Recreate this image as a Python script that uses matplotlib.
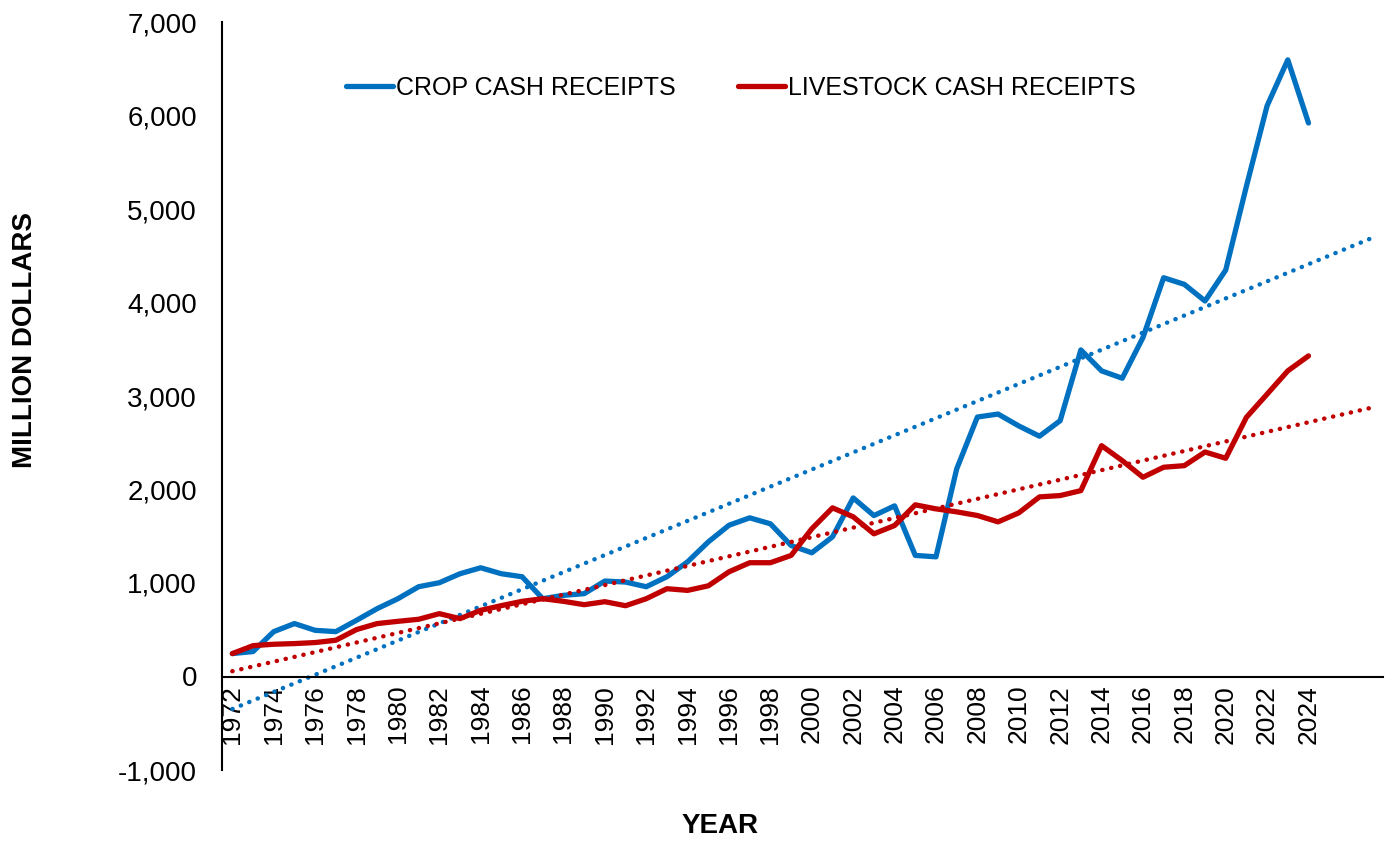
import numpy as np
import matplotlib.pyplot as plt
from matplotlib.ticker import FuncFormatter

# Werte (Millionen Dollar)
years = np.arange(1972, 2025)
crop = [245, 267, 480, 566, 494, 480, 601, 726, 832, 960,
        1003, 1099, 1163, 1099, 1067, 832, 868, 886, 1021, 1010,
        960, 1067, 1227, 1440, 1618, 1697, 1633, 1401, 1323, 1494,
        1910, 1721, 1825, 1295, 1280, 2220, 2775, 2807, 2680, 2570,
        2736, 3493, 3269, 3190, 3625, 4265, 4194, 4016, 4347, 5243,
        6104, 6595, 5920]
livestock = [245, 330, 345, 352, 363, 388, 502, 566, 590, 612,
             672, 619, 708, 758, 804, 832, 804, 768, 800, 757,
             832, 939, 921, 970, 1120, 1217, 1217, 1295, 1580, 1804,
             1708, 1526, 1615, 1836, 1793, 1761, 1722, 1654, 1750, 1921,
             1935, 1988, 2469, 2309, 2131, 2238, 2255, 2401, 2334, 2772,
             3020, 3269, 3429]
labels = ["CROP CASH RECEIPTS", "LIVESTOCK CASH RECEIPTS"]
colors = ["#0070C0", "#C00000"]
forecast = 3  # Trendlinie 3 Jahre nach vorne

plt.rcParams["font.family"] = ["Liberation Sans", "DejaVu Sans"]

fig = plt.figure(figsize=(13.85, 8.42), dpi=100)
ax = fig.add_axes([222 / 1385, 1 - 770 / 842, 1161 / 1385, 748 / 842])

# Linien + lineare Trendlinien (polyfit)
trend_x = np.arange(1972, 2025 + forecast)
for vals, lab, col in zip((crop, livestock), labels, colors):
    ax.plot(years, vals, color=col, lw=3.8, label=lab, solid_capstyle="round")
    k, d = np.polyfit(years, vals, 1)
    ax.plot(trend_x, k * trend_x + d, color=col, lw=3.2,
            linestyle=(0, (0.05, 2.0)), dash_capstyle="round")

ax.set_xlim(1971.5, 2027.6)
ax.set_ylim(-1000, 7000)
ax.set_yticks(np.arange(-1000, 7001, 1000))
ax.yaxis.set_major_formatter(FuncFormatter(lambda v, p: f"{v:,.0f}"))
ax.set_xticks(np.arange(1972, 2025, 2))
ax.tick_params(axis="x", length=0, labelrotation=90, labelsize=19, pad=6)
ax.tick_params(axis="y", length=0, labelsize=20, pad=18)

ax.spines["top"].set_visible(False)
ax.spines["right"].set_visible(False)
ax.spines["bottom"].set_position(("data", 0))
ax.spines["left"].set_linewidth(1.5)
ax.spines["bottom"].set_linewidth(1.5)

fig.text(25 / 1385, 1 - 340 / 842, "MILLION DOLLARS", rotation=90,
         ha="center", va="center", fontsize=20, fontweight="bold")
fig.text(720 / 1385, 1 - 826 / 842, "YEAR",
         ha="center", va="center", fontsize=20, fontweight="bold")

fig.legend(loc="center left", bbox_to_anchor=(333 / 1385, 1 - 88 / 842),
           ncol=2, frameon=False, fontsize=18, handlelength=1.9,
           handletextpad=0.1, columnspacing=2.5, borderpad=0)

fig.savefig("out.png", dpi=100)
